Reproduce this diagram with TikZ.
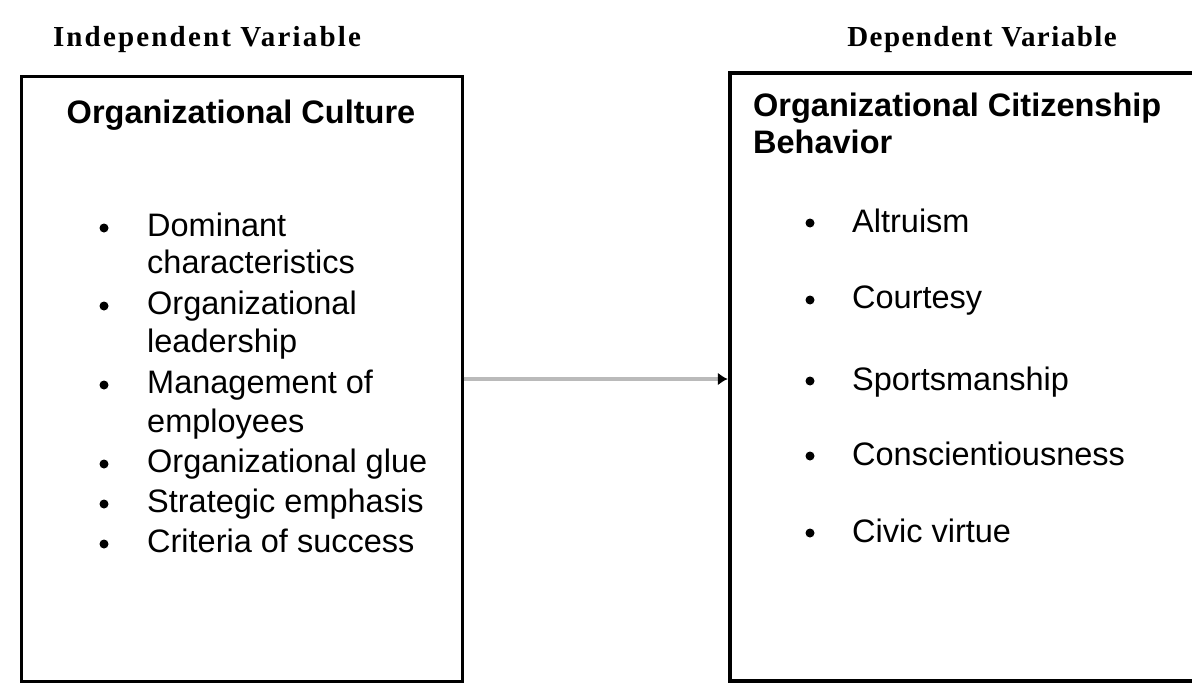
\documentclass[tikz,border=0pt]{standalone}
\usepackage{fontspec}
\setmainfont{Liberation Serif}
\setsansfont{Liberation Sans}
\newfontfamily\hdrIfont{Liberation Serif}[LetterSpace=7.5]
\newfontfamily\hdrDfont{Liberation Serif}[LetterSpace=5]
\usetikzlibrary{arrows.meta}
\begin{document}
\begin{tikzpicture}[x=1pt,y=-1pt,
  box/.style={draw=black, inner sep=0pt},
  hdr/.style={anchor=base, inner sep=0pt},
  ttl/.style={anchor=base west, inner sep=0pt, font=\sffamily\bfseries\fontsize{32.5}{36}\selectfont},
  ttlc/.style={anchor=base, inner sep=0pt, font=\sffamily\bfseries\fontsize{32.5}{36}\selectfont},
  itm/.style={anchor=base west, inner sep=0pt, font=\sffamily\fontsize{32.5}{39}\selectfont},
  bul/.style={circle, fill=black, inner sep=0pt, minimum size=9pt},
]
\useasboundingbox (0,0) rectangle (1192,685);
\clip (0,0) rectangle (1192,685);
% headers
\node[hdr, font=\hdrIfont\bfseries\fontsize{29}{32}\selectfont] (hi) at (207,47) {Independent Variable};
\node[hdr, font=\hdrDfont\bfseries\fontsize{29}{32}\selectfont] (hd) at (982,47) {Dependent Variable};
% boxes
\node[box, line width=3pt, minimum width=441pt, minimum height=604pt] (oc) at (241.5,379) {};
\node[box, line width=4.5pt, minimum width=470pt, minimum height=608pt] (ocb) at (965,377) {};
% connector
\draw[line width=4pt, draw=black!27, -{Latex[length=10pt,width=13pt,black]}] (oc.east) -- (oc.east -| ocb.west);
% left box content
\node[ttlc] (t1) at (241,123) {Organizational Culture};
\node[bul] (b1) at (104,228) {};
\node[itm] (l1a) at (147,236) {Dominant};
\node[itm] (l1b) at (147,273) {characteristics};
\node[bul] (b2) at (104,306) {};
\node[itm] (l2a) at (147,314) {Organizational};
\node[itm] (l2b) at (147,352) {leadership};
\node[bul] (b3) at (104,385) {};
\node[itm] (l3a) at (147,393) {Management of};
\node[itm] (l3b) at (147,432) {employees};
\node[bul] (b4) at (104,464) {};
\node[itm] (l4) at (147,472) {Organizational glue};
\node[bul] (b5) at (104,504) {};
\node[itm] (l5) at (147,512) {Strategic emphasis};
\node[bul] (b6) at (104,544) {};
\node[itm] (l6) at (147,552) {Criteria of success};
% right box content
\node[ttl] (t2a) at (753,117) {Organizational Citizenship};
\node[ttl] (t2b) at (753,153) {Behavior};
\node[bul] (r1) at (810,223) {};
\node[itm] (s1) at (852,232) {Altruism};
\node[bul] (r2) at (810,300) {};
\node[itm] (s2) at (852,308) {Courtesy};
\node[bul] (r3) at (810,381) {};
\node[itm] (s3) at (852,390) {Sportsmanship};
\node[bul] (r4) at (810,456) {};
\node[itm] (s4) at (852,465) {Conscientiousness};
\node[bul] (r5) at (810,533) {};
\node[itm] (s5) at (852,542) {Civic virtue};
\end{tikzpicture}
\end{document}
